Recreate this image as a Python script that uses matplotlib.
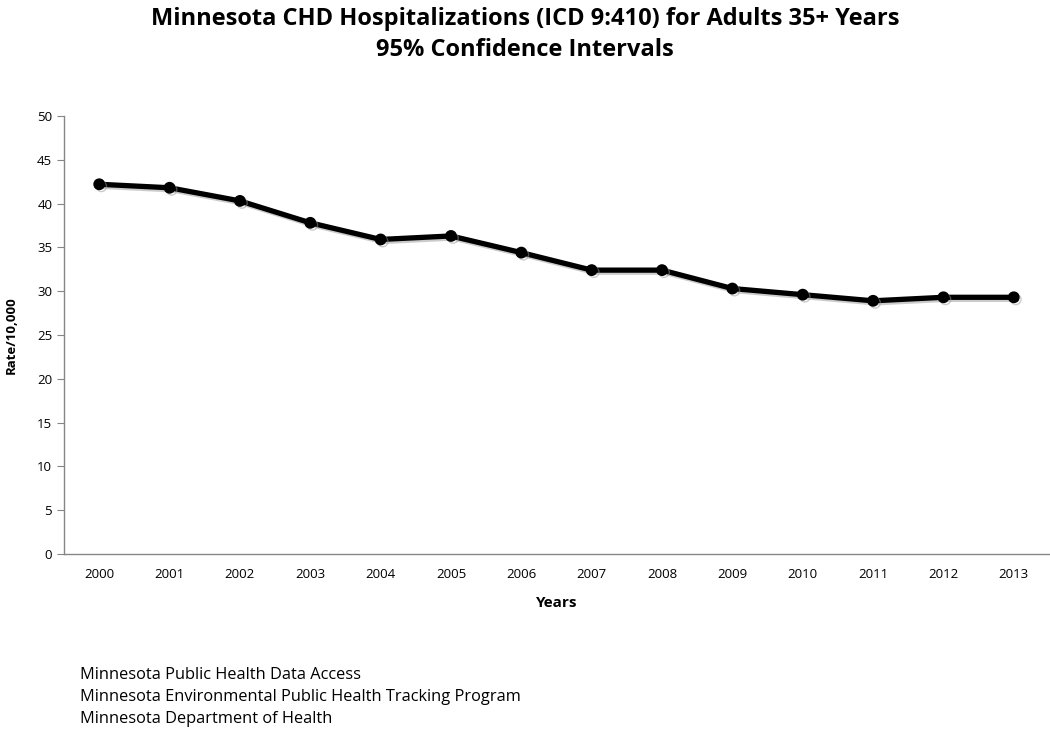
#Minnesota CHD hospitalization rates, 2000-2013
import matplotlib
matplotlib.use("Agg")
import matplotlib.pyplot as plt
import matplotlib.patheffects as pe

years=['2000','2001','2002','2003','2004','2005','2006','2007','2008','2009','2010','2011','2012','2013']
rates=[42.2,41.8,40.3,37.8,35.9,36.3,34.4,32.4,32.4,30.3,29.6,28.9,29.3,29.3]
yticks=[0,5,10,15,20,25,30,35,40,45,50]
footer=['Minnesota Public Health Data Access',
	'Minnesota Environmental Public Health Tracking Program',
	'Minnesota Department of Health']

plt.rcParams['font.family']=['Open Sans','DejaVu Sans']

fig=plt.figure(figsize=(10.5,7.29),dpi=100)
ax=fig.add_axes([0.061,0.240,0.938,0.601])

x=list(range(len(years)))
#soft drop shadow like the original spreadsheet chart
shadow=[pe.SimpleLineShadow(offset=(1.5,-1.5),shadow_color='#999999',alpha=0.5),pe.Normal()]
ax.plot(x,rates,color='black',lw=3.8,marker='o',ms=7.5,path_effects=shadow)

ax.set_xlim(-0.5,len(years)-0.5)
ax.set_ylim(0,50)
ax.set_yticks(yticks)
ax.set_xticks(x)
ax.set_xticklabels(years)
ax.tick_params(axis='x',length=0,labelsize=9.5,pad=10)
ax.tick_params(axis='y',length=5,labelsize=9.5,color='#868686',direction='out')

for s in ['top','right']:
	ax.spines[s].set_visible(False)
for s in ['left','bottom']:
	ax.spines[s].set_color('#868686')
	ax.spines[s].set_linewidth(1)

ax.set_xlabel('Years',fontsize=11,fontweight='bold',labelpad=11)
ax.set_ylabel('Rate/10,000',fontsize=9.5,fontweight='bold',labelpad=14)

fig.text(0.5,0.991,'Minnesota CHD Hospitalizations (ICD 9:410) for Adults 35+ Years\n95% Confidence Intervals',
	ha='center',va='top',fontsize=17,fontweight='bold',linespacing=1.4)

for i,line in enumerate(footer):
	fig.text(0.076,1-(675+22*i)/729.,line,ha='left',va='center',fontsize=11.8)

fig.savefig('out.png',dpi=100)
